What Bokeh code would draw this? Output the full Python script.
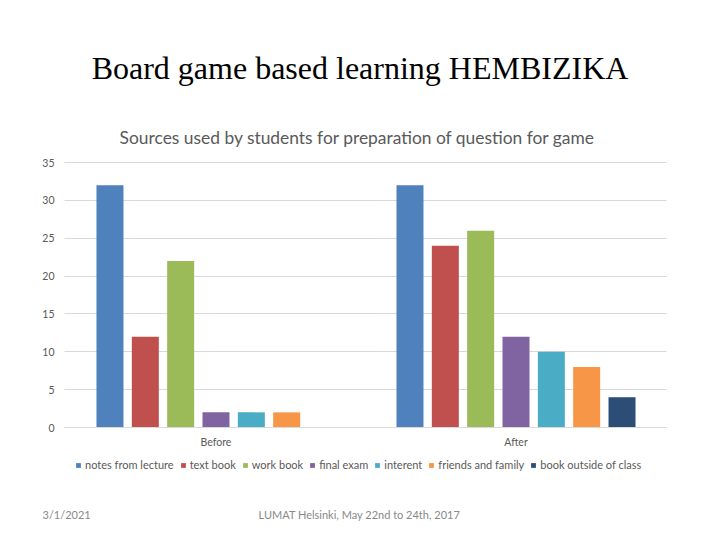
from bokeh.plotting import figure
from bokeh.models import FactorRange, Label, Legend, LegendItem, Range1d, FixedTicker
from bokeh.transform import dodge
from bokeh.embed import file_html
from bokeh.resources import INLINE

periods = ["Before", "After"]
sources = ["notes from lecture", "text book", "work book", "final exam",
           "interent", "friends and family", "book outside of class"]
before = [32, 12, 22, 2, 2, 2, 0]
after = [32, 24, 26, 12, 10, 8, 4]
colors = ["#4f81bd", "#c0504d", "#9bbb59", "#8064a2", "#4bacc6", "#f79646", "#2c4d75"]
y_ticks = [0, 5, 10, 15, 20, 25, 30, 35]

GREY = "#595959"
AXIS_LEFT, AXIS_RIGHT = -0.005, 2.0017

# the frame fills nearly the whole page, so the legend and slide texts live inside it;
# y 0..35 sits at pixel rows 427..162 and axes and grid are bounded to the chart's area
x_range = FactorRange(factors=periods, range_padding=0.18165, range_padding_units="absolute", factor_padding=0)
p = figure(width=720, height=540, x_range=x_range,
           y_range=Range1d(-14.924, 56.396), output_backend="svg", toolbar_location=None,
           min_border_left=11, min_border_right=0, min_border_top=0, min_border_bottom=0)
p.outline_line_color = None
p.background_fill_color = "white"

# one vbar per source, dodged around the group centre
items = []
for i, name in enumerate(sources):
    data = {"period": periods, "count": [before[i], after[i]]}
    r = p.vbar(x=dodge("period", (i - 3) * 0.1178, range=p.x_range), top="count", width=0.09,
               source=data, fill_color=colors[i], line_color=None)
    items.append(LegendItem(label=name, renderers=[r]))

p.xgrid.visible = False
p.ygrid.grid_line_color = "#d9d9d9"
p.ygrid.ticker = FixedTicker(ticks=y_ticks)
p.ygrid.cross_bounds = (AXIS_LEFT, AXIS_RIGHT)

p.yaxis.fixed_location = AXIS_LEFT
p.yaxis.ticker = FixedTicker(ticks=y_ticks)
p.yaxis.axis_line_color = None
p.yaxis.major_tick_line_color = None
p.yaxis.minor_tick_line_color = None
p.yaxis.major_tick_out = 0
p.yaxis.major_label_text_font = "Lato"
p.yaxis.major_label_text_font_size = "10.5px"
p.yaxis.major_label_text_color = GREY
p.yaxis.major_label_standoff = 10

p.xaxis.fixed_location = 0
p.xaxis.bounds = (AXIS_LEFT, AXIS_RIGHT)
p.xaxis.axis_line_color = "#d9d9d9"
p.xaxis.major_tick_line_color = None
p.xaxis.minor_tick_line_color = None
p.xaxis.major_tick_out = 0
p.xaxis.major_label_text_font = "Lato"
p.xaxis.major_label_text_font_size = "10.5px"
p.xaxis.major_label_text_color = GREY
p.xaxis.major_label_standoff = 8

legend = Legend(items=items, orientation="horizontal", location=(64, 69), border_line_color=None,
                background_fill_alpha=0, glyph_width=6, glyph_height=6, label_standoff=4,
                spacing=6, padding=0, margin=0, label_text_font="Lato",
                label_text_font_size="11px", label_text_color=GREY)
p.add_layout(legend, "center")

# slide texts, in screen pixels from the frame's lower left corner
p.add_layout(Label(x=348.5, y=473, x_units="screen", y_units="screen", text="Board game based learning HEMBIZIKA",
                   text_font="Liberation Serif", text_font_size="32px", text_color="#000000",
                   text_align="center", text_baseline="middle"))
p.add_layout(Label(x=346, y=403, x_units="screen", y_units="screen",
                   text="Sources used by students for preparation of question for game",
                   text_font="Lato", text_font_size="17.4px", text_color=GREY,
                   text_align="center", text_baseline="middle"))
p.add_layout(Label(x=31, y=26, x_units="screen", y_units="screen", text="3/1/2021",
                   text_font="Lato", text_font_size="11px", text_color="#898989",
                   text_baseline="middle"))
p.add_layout(Label(x=348, y=26, x_units="screen", y_units="screen", text="LUMAT Helsinki, May 22nd to 24th, 2017",
                   text_font="Lato", text_font_size="11px", text_color="#898989",
                   text_align="center", text_baseline="middle"))

open("out.html", "w").write(file_html(p, INLINE))
